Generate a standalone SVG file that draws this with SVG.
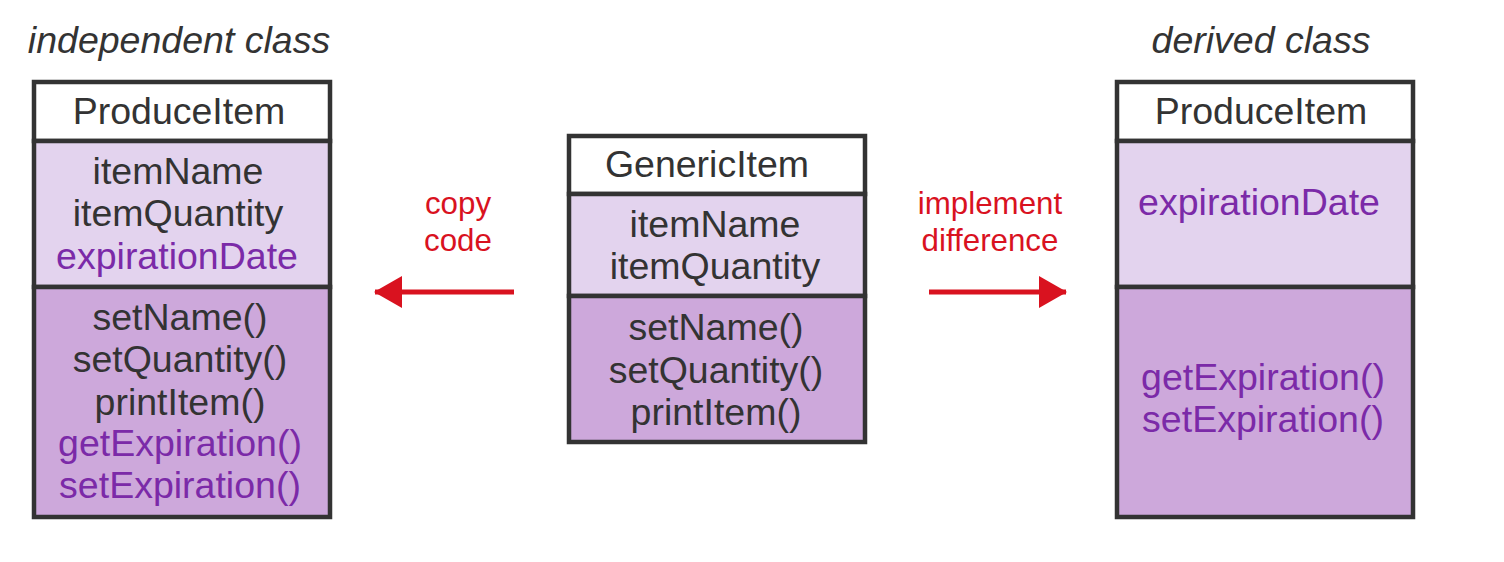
<svg xmlns="http://www.w3.org/2000/svg" width="1504" height="562" viewBox="0 0 1504 562">
<defs>
<style>
.t{font-family:"Liberation Sans",Arial,sans-serif;font-size:37.5px;fill:#333;text-anchor:middle}
.p{fill:#7b2aa8}
.cap{font-family:"Liberation Sans",Arial,sans-serif;font-size:37.5px;font-style:italic;fill:#333;text-anchor:middle}
.lbl{font-family:"Liberation Sans",Arial,sans-serif;font-size:31.3px;fill:#d9121f;text-anchor:middle}
.box{stroke:#333;stroke-width:4.5}
.hd{fill:#fff}
.at{fill:#e3d3ee}
.mt{fill:#cda8db}
.arr{stroke:#d9121f;stroke-width:5;fill:none}
</style>
<marker id="ah" markerUnits="userSpaceOnUse" markerWidth="28" markerHeight="32" refX="27" refY="16" orient="auto">
<path d="M0,0 L28,16 L0,32 Z" fill="#d9121f"/>
</marker>
</defs>
<rect width="1504" height="562" fill="#fff"/>
<text class="cap" x="179" y="53">independent class</text>
<text class="cap" x="1261" y="53">derived class</text>
<g id="independent">
<rect class="box hd" x="34" y="82" width="296" height="59"/>
<rect class="box at" x="34" y="141" width="296" height="146"/>
<rect class="box mt" x="34" y="287" width="296" height="230"/>
<text class="t" x="179" y="124">ProduceItem</text>
<text class="t" x="178" y="184">itemName</text>
<text class="t" x="178" y="226">itemQuantity</text>
<text class="t p" x="177" y="269">expirationDate</text>
<text class="t" x="180" y="330">setName()</text>
<text class="t" x="180" y="372">setQuantity()</text>
<text class="t" x="180" y="415">printItem()</text>
<text class="t p" x="180" y="456">getExpiration()</text>
<text class="t p" x="180" y="498">setExpiration()</text>
</g>
<g id="generic">
<rect class="box hd" x="569" y="136" width="296" height="58"/>
<rect class="box at" x="569" y="194" width="296" height="102"/>
<rect class="box mt" x="569" y="296" width="296" height="146"/>
<text class="t" x="707" y="177">GenericItem</text>
<text class="t" x="715" y="237">itemName</text>
<text class="t" x="715" y="279">itemQuantity</text>
<text class="t" x="716" y="340">setName()</text>
<text class="t" x="716" y="383">setQuantity()</text>
<text class="t" x="716" y="425">printItem()</text>
</g>
<g id="derived">
<rect class="box hd" x="1117" y="82" width="296" height="59"/>
<rect class="box at" x="1117" y="141" width="296" height="146"/>
<rect class="box mt" x="1117" y="287" width="296" height="230"/>
<text class="t" x="1261" y="124">ProduceItem</text>
<text class="t p" x="1259" y="215">expirationDate</text>
<text class="t p" x="1263" y="390">getExpiration()</text>
<text class="t p" x="1263" y="432">setExpiration()</text>
</g>
<g id="connectors">
<line class="arr" x1="514" y1="292" x2="375" y2="292" marker-end="url(#ah)"/>
<line class="arr" x1="929" y1="292" x2="1066" y2="292" marker-end="url(#ah)"/>
<text class="lbl" x="458" y="214">copy</text>
<text class="lbl" x="458" y="251">code</text>
<text class="lbl" x="990" y="214">implement</text>
<text class="lbl" x="990" y="251">difference</text>
</g>
</svg>
